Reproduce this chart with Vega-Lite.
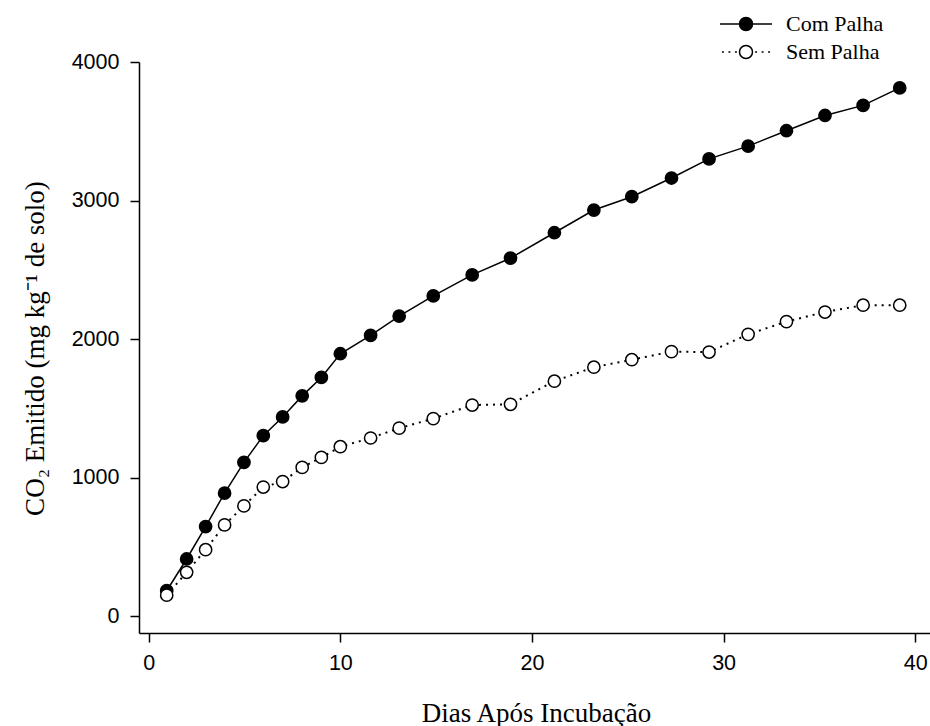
{
  "$schema": "https://vega.github.io/schema/vega-lite/v6.json",
  "width": 791,
  "height": 571,
  "autosize": {"type": "none"},
  "padding": {"left": 139, "top": 62, "right": 0, "bottom": 93},
  "background": "white",
  "config": {"view": {"stroke": null}},
  "data": {
    "values": [
      {"dia": 0.94, "co2": 185, "trat": "Com Palha"},
      {"dia": 1.98, "co2": 414, "trat": "Com Palha"},
      {"dia": 2.97, "co2": 648, "trat": "Com Palha"},
      {"dia": 3.96, "co2": 889, "trat": "Com Palha"},
      {"dia": 4.97, "co2": 1111, "trat": "Com Palha"},
      {"dia": 5.98, "co2": 1304, "trat": "Com Palha"},
      {"dia": 6.99, "co2": 1439, "trat": "Com Palha"},
      {"dia": 8.01, "co2": 1591, "trat": "Com Palha"},
      {"dia": 9.01, "co2": 1724, "trat": "Com Palha"},
      {"dia": 10.0, "co2": 1895, "trat": "Com Palha"},
      {"dia": 11.58, "co2": 2027, "trat": "Com Palha"},
      {"dia": 13.07, "co2": 2167, "trat": "Com Palha"},
      {"dia": 14.85, "co2": 2312, "trat": "Com Palha"},
      {"dia": 16.88, "co2": 2464, "trat": "Com Palha"},
      {"dia": 18.88, "co2": 2585, "trat": "Com Palha"},
      {"dia": 21.17, "co2": 2768, "trat": "Com Palha"},
      {"dia": 23.23, "co2": 2932, "trat": "Com Palha"},
      {"dia": 25.21, "co2": 3028, "trat": "Com Palha"},
      {"dia": 27.28, "co2": 3163, "trat": "Com Palha"},
      {"dia": 29.24, "co2": 3301, "trat": "Com Palha"},
      {"dia": 31.28, "co2": 3393, "trat": "Com Palha"},
      {"dia": 33.28, "co2": 3504, "trat": "Com Palha"},
      {"dia": 35.29, "co2": 3614, "trat": "Com Palha"},
      {"dia": 37.28, "co2": 3687, "trat": "Com Palha"},
      {"dia": 39.19, "co2": 3813, "trat": "Com Palha"},
      {"dia": 0.94, "co2": 153, "trat": "Sem Palha"},
      {"dia": 1.98, "co2": 318, "trat": "Sem Palha"},
      {"dia": 2.97, "co2": 481, "trat": "Sem Palha"},
      {"dia": 3.96, "co2": 660, "trat": "Sem Palha"},
      {"dia": 4.97, "co2": 797, "trat": "Sem Palha"},
      {"dia": 5.98, "co2": 933, "trat": "Sem Palha"},
      {"dia": 6.99, "co2": 973, "trat": "Sem Palha"},
      {"dia": 8.01, "co2": 1075, "trat": "Sem Palha"},
      {"dia": 9.01, "co2": 1147, "trat": "Sem Palha"},
      {"dia": 10.0, "co2": 1224, "trat": "Sem Palha"},
      {"dia": 11.58, "co2": 1287, "trat": "Sem Palha"},
      {"dia": 13.07, "co2": 1358, "trat": "Sem Palha"},
      {"dia": 14.85, "co2": 1427, "trat": "Sem Palha"},
      {"dia": 16.88, "co2": 1525, "trat": "Sem Palha"},
      {"dia": 18.88, "co2": 1530, "trat": "Sem Palha"},
      {"dia": 21.17, "co2": 1697, "trat": "Sem Palha"},
      {"dia": 23.23, "co2": 1798, "trat": "Sem Palha"},
      {"dia": 25.21, "co2": 1852, "trat": "Sem Palha"},
      {"dia": 27.28, "co2": 1910, "trat": "Sem Palha"},
      {"dia": 29.24, "co2": 1907, "trat": "Sem Palha"},
      {"dia": 31.28, "co2": 2035, "trat": "Sem Palha"},
      {"dia": 33.28, "co2": 2127, "trat": "Sem Palha"},
      {"dia": 35.29, "co2": 2196, "trat": "Sem Palha"},
      {"dia": 37.28, "co2": 2245, "trat": "Sem Palha"},
      {"dia": 39.19, "co2": 2245, "trat": "Sem Palha"}
    ]
  },
  "encoding": {
    "x": {
      "field": "dia",
      "type": "quantitative",
      "scale": {"domain": [-0.506, 40.77], "nice": false, "zero": false},
      "axis": {
        "title": "Dias Após Incubação",
        "values": [0, 10, 20, 30, 40],
        "format": "d",
        "grid": false,
        "domainColor": "black",
        "domainWidth": 1.5,
        "tickColor": "black",
        "tickWidth": 1.5,
        "tickSize": 9,
        "labelFont": "Liberation Sans",
        "labelFontSize": 21.5,
        "labelColor": "black",
        "labelPadding": 10,
        "titleFont": "Liberation Serif",
        "titleFontSize": 27,
        "titleFontWeight": "normal",
        "titleColor": "black",
        "titleBaseline": "alphabetic",
        "titleX": 397,
        "titleY": 88
      }
    },
    "y": {
      "field": "co2",
      "type": "quantitative",
      "scale": {"domain": [-120, 4000], "nice": false, "zero": false},
      "axis": {
        "title": "CO₂ Emitido (mg kg⁻¹ de solo)",
        "values": [0, 1000, 2000, 3000, 4000],
        "format": "d",
        "grid": false,
        "domainColor": "black",
        "domainWidth": 1.5,
        "tickColor": "black",
        "tickWidth": 1.5,
        "tickSize": 9,
        "labelFont": "Liberation Sans",
        "labelFontSize": 21.5,
        "labelColor": "black",
        "labelPadding": 11,
        "titleFont": "Liberation Serif",
        "titleFontSize": 27,
        "titleFontWeight": "normal",
        "titleColor": "black",
        "titleBaseline": "alphabetic",
        "titleAngle": 270,
        "titleX": -96,
        "titleY": 286
      }
    }
  },
  "layer": [
    {
      "transform": [{"filter": "datum.trat === 'Com Palha'"}],
      "mark": {"type": "line", "color": "black", "strokeWidth": 1.5},
      "encoding": {}
    },
    {
      "transform": [{"filter": "datum.trat === 'Sem Palha'"}],
      "mark": {"type": "line", "color": "black", "strokeWidth": 2, "strokeDash": [2, 5]},
      "encoding": {}
    },
    {
      "mark": {"type": "point", "shape": "circle", "filled": true, "size": 150, "stroke": "black", "strokeWidth": 1.5, "opacity": 1},
      "encoding": {
        "fill": {
          "field": "trat",
          "type": "nominal",
          "scale": {"domain": ["Com Palha", "Sem Palha"], "range": ["black", "white"]},
          "legend": {
            "title": null,
            "orient": "none",
            "legendX": 593,
            "legendY": -52,
            "padding": 0,
            "symbolSize": 676,
            "symbolStrokeColor": "black",
            "symbolStrokeWidth": 1.5,
            "labelOffset": 26,
            "rowPadding": 3,
            "labelFont": "Liberation Serif",
            "labelFontSize": 22,
            "labelColor": "black",
            "labelBaseline": "middle"
          }
        }
      }
    },
    {
      "transform": [{"filter": "false"}],
      "mark": {"type": "point", "filled": true, "stroke": "black", "strokeWidth": 1.5, "opacity": 1},
      "encoding": {
        "fill": {
          "field": "trat",
          "type": "nominal",
          "scale": {"domain": ["Com Palha", "Sem Palha"], "range": ["black", "white"]}
        },
        "shape": {
          "field": "trat",
          "type": "nominal",
          "scale": {
            "domain": ["Com Palha", "Sem Palha"],
            "range": [
              "M-2,0L-0.5,0M0.5,0L2,0M-0.5,0A0.5,0.5,0,1,1,0.5,0A0.5,0.5,0,1,1,-0.5,0Z",
              "M-1.85,0L-1.7,0M-1.35,0L-1.2,0M-0.85,0L-0.7,0M0.7,0L0.85,0M1.2,0L1.35,0M1.7,0L1.85,0M-0.5,0A0.5,0.5,0,1,1,0.5,0A0.5,0.5,0,1,1,-0.5,0Z"
            ]
          }
        }
      }
    }
  ]
}
